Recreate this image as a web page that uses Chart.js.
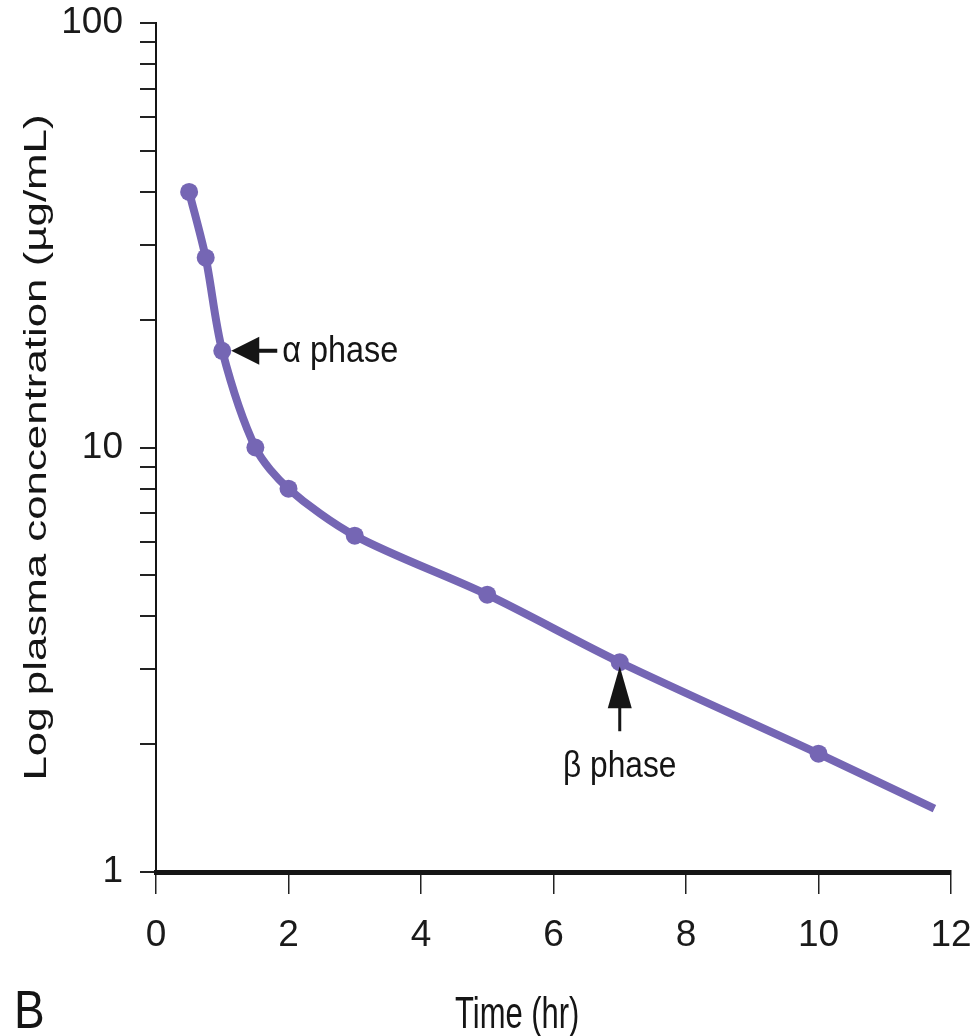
<!DOCTYPE html>
<html>
<head>
<meta charset="utf-8">
<script src="https://cdn.jsdelivr.net/npm/chart.js@4.4.0/dist/chart.umd.min.js"></script>
<style>
  html, body { margin: 0; padding: 0; background: #fff; }
  canvas { display: block; }
</style>
</head>
<body>
<canvas id="pkChart" width="973" height="1036"></canvas>
<script>
    // time (hr) and plasma concentration (ug/mL); last entry is the end of the fitted line
    const timeHr = [0.5, 0.75, 1, 1.5, 2, 3, 5, 7, 10, 11.75];
    const concentration = [40, 28, 16.9, 10, 8.0, 6.2, 4.5, 3.12, 1.9, 1.41];

    const xTickValues = [0, 2, 4, 6, 8, 10, 12];
    const yTickValues = [1, 2, 3, 4, 5, 6, 7, 8, 9, 10, 20, 30, 40, 50, 60, 70, 80, 90, 100];
    const yTickLabels = [1, 10, 100];

    const phaseLabels = ['\u03b1 phase', '\u03b2 phase'];
    const phaseTimes = [1, 7];
    const phaseConc = [16.9, 3.12];

    const xTitle = 'Time (hr)';
    const yTitle = 'Log plasma concentration (\u00b5g/mL)';
    const panelLabel = 'B';

    const purple = '#7566b4';
    const ink = '#151515';
    const sans = '"Liberation Sans", Arial, sans-serif';

    // draw text squeezed / stretched, the figure uses a condensed face
    function drawText(ctx, text, x, y, size, sx, sy, align) {
      ctx.save();
      ctx.translate(x, y);
      ctx.scale(sx, sy);
      ctx.font = size + 'px ' + sans;
      ctx.textAlign = align;
      ctx.textBaseline = 'alphabetic';
      ctx.fillText(text, 0, 0);
      ctx.restore();
    }

    const annotations = {
      id: 'annotations',
      afterDatasetsDraw(chart) {
        const { ctx, scales: { x, y } } = chart;
        ctx.save();
        ctx.fillStyle = ink;

        // alpha phase arrow points left at the 1 hr sample
        const ax = x.getPixelForValue(phaseTimes[0]);
        const ay = y.getPixelForValue(phaseConc[0]);
        ctx.beginPath();
        ctx.moveTo(ax + 9, ay);
        ctx.lineTo(ax + 37, ay - 14);
        ctx.lineTo(ax + 37, ay + 14);
        ctx.closePath();
        ctx.fill();
        ctx.fillRect(ax + 35, ay - 2, 20, 4);
        drawText(ctx, phaseLabels[0], ax + 60, ay + 11, 36, 0.9, 1, 'left');

        // beta phase arrow points up at the 7 hr sample
        const bx = x.getPixelForValue(phaseTimes[1]);
        const by = y.getPixelForValue(phaseConc[1]);
        ctx.beginPath();
        ctx.moveTo(bx, by + 4);
        ctx.lineTo(bx - 12, by + 46);
        ctx.lineTo(bx + 12, by + 46);
        ctx.closePath();
        ctx.fill();
        ctx.fillRect(bx - 1.5, by + 44, 3, 25);
        drawText(ctx, phaseLabels[1], bx, by + 115, 36, 0.88, 1, 'center');
        ctx.restore();
      },
      afterDraw(chart) {
        const { ctx, chartArea } = chart;
        ctx.save();
        ctx.fillStyle = ink;

        // y title, stretched along its length like the original figure
        ctx.save();
        ctx.translate(46, (chartArea.top + chartArea.bottom) / 2);
        ctx.rotate(-Math.PI / 2);
        drawText(ctx, yTitle, 0, 0, 32, 1.37, 1, 'center');
        ctx.restore();

        drawText(ctx, xTitle, 455, 1028, 36, 0.86, 1.24, 'left');
        drawText(ctx, panelLabel, 14, 1028, 46, 1, 1.15, 'left');
        ctx.restore();
      }
    };

    new Chart(document.getElementById('pkChart'), {
      type: 'line',
      data: {
        datasets: [{
          data: timeHr.map((t, i) => ({ x: t, y: concentration[i] })),
          borderColor: purple,
          backgroundColor: purple,
          borderWidth: 8,
          pointRadius: ctx => ctx.dataIndex === timeHr.length - 1 ? 0 : 9,
          pointBorderWidth: 0,
          pointHoverRadius: 0,
          tension: 0.3,
          fill: false
        }]
      },
      options: {
        responsive: false,
        animation: false,
        events: [],
        layout: { padding: { top: 23, right: 22, bottom: 0, left: 0 } },
        plugins: {
          legend: { display: false },
          tooltip: { enabled: false }
        },
        scales: {
          x: {
            type: 'linear',
            min: 0,
            max: 12,
            afterFit: s => {
              s.height = 164;
              s.paddingLeft = 0;
              s.paddingRight = 0;
            },
            afterBuildTicks: s => { s.ticks = xTickValues.map(v => ({ value: v })); },
            border: { color: ink, width: 5 },
            grid: { drawOnChartArea: false, tickLength: 22, color: '#222', lineWidth: 1.5 },
            ticks: {
              color: '#1a1a1a',
              padding: 20,
              maxRotation: 0,
              font: { family: sans, size: 37 }
            }
          },
          y: {
            type: 'logarithmic',
            min: 1,
            max: 100,
            afterFit: s => {
              s.width = 156;
              s.paddingTop = 0;
              s.paddingBottom = 0;
            },
            afterBuildTicks: s => { s.ticks = yTickValues.map(v => ({ value: v })); },
            border: { color: ink, width: 2 },
            grid: { drawOnChartArea: false, tickLength: 16, color: '#222', lineWidth: 2 },
            ticks: {
              autoSkip: false,
              color: '#1a1a1a',
              padding: 17,
              font: { family: sans, size: 37 },
              callback: v => yTickLabels.includes(v) ? String(v) : ''
            }
          }
        }
      },
      plugins: [annotations]
    });
</script>
</body>
</html>
